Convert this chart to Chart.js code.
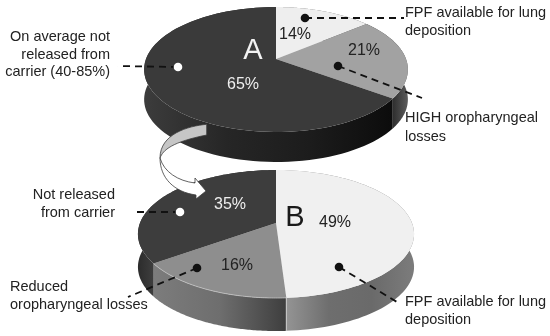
<!DOCTYPE html>
<html lang="en">

<head>
    <meta charset="UTF-8">
    <title>Lung deposition pies</title>
    <script src="https://cdn.jsdelivr.net/npm/chart.js"></script>
    <style>
        html, body { margin: 0; padding: 0; background: #fff; overflow: hidden; }
        #stage { position: relative; width: 550px; height: 336px; overflow: hidden;
                 font-family: "Liberation Sans", Arial, sans-serif; color: #222; filter: blur(0.35px); }
        canvas { position: absolute; left: 0; top: 0; }
        .txt { position: absolute; white-space: nowrap; font-size: 14.5px; line-height: 18px; }
        .right { text-align: right; }
        .pct { position: absolute; font-size: 16px; line-height: 18px; transform: translate(-50%, -50%); }
        .big { position: absolute; font-size: 29px; line-height: 30px; transform: translate(-50%, -50%); }
    </style>
</head>

<body>
    <div id="stage">
        <canvas id="pieA" width="550" height="336"></canvas>
        <canvas id="pieB" width="550" height="336"></canvas>
    </div>

<script>
    // values
    const sliceNamesA = ['FPF available for lung deposition', 'HIGH oropharyngeal losses', 'On average not released from carrier'];
    const valuesA = [14, 21, 65];
    const sliceNamesB = ['FPF available for lung deposition', 'Reduced oropharyngeal losses', 'Not released from carrier'];
    const valuesB = [49, 16, 35];

    // colours
    const facesA = ['#eeeeee', '#a2a2a2', '#3a3a3a'];
    const wallsA = [['#666666', '#555555'], ['#2e2e2e', '#5c5c5c'], ['#3c3c3c', '#262626', '#1c1c1c', '#0c0c0c']];
    const facesB = ['#f0f0f0', '#8e8e8e', '#3d3d3d'];
    const wallsB = [['#949494', '#6e6e6e', '#6a6a6a', '#7c7c7c'], ['#7c7c7c', '#6e6e6e', '#3e3e3e'], ['#2c2c2c', '#3e3e3e']];

    // how each flat pie is tilted on the page
    const viewA = { x: 276, y: 59, a: 130, b: 60.7, tilt: 0.168, depth: 30 };
    const viewB = { x: 276, y: 223, a: 136, b: 62.1, tilt: 0.172, depth: 33 };

    // callouts [dot x, dot y, end x, end y, dot colour]
    const calloutsA = [[305, 18, 404, 18, '#111'], [338, 66, 422, 98, '#111'], [178, 67, 118, 66, '#fff']];
    const calloutsB = [[180, 212, 132, 212, '#fff'], [197, 268, 128, 297, '#111'], [339, 267, 397, 302, '#111']];

    function project(view, angle, drop) {
        const u = Math.cos(angle);
        const v = Math.sin(angle);
        const w = 1 - view.tilt * v;
        return [view.x + view.a * u / w, view.y + view.b * v / w + (drop || 0)];
    }

    function rim(view, arc, drop) {
        const pts = [];
        const steps = 90;
        for (let i = 0; i <= steps; i++) {
            const ang = arc.startAngle + (arc.endAngle - arc.startAngle) * i / steps;
            pts.push(project(view, ang, drop));
        }
        return pts;
    }

    function drawWall(ctx, view, arc, stops) {
        const top = rim(view, arc, 0);
        const bottom = rim(view, arc, view.depth).reverse();
        // gradient only runs over the part of the wall you can see
        const front = top.filter(p => p[1] > view.y - 8);
        const xs = (front.length ? front : top).map(p => p[0]);
        const grad = ctx.createLinearGradient(Math.min(...xs), 0, Math.max(...xs), 0);
        stops.forEach((c, i) => grad.addColorStop(i / (stops.length - 1), c));
        ctx.fillStyle = grad;
        ctx.beginPath();
        top.concat(bottom).forEach((p, i) => i ? ctx.lineTo(p[0], p[1]) : ctx.moveTo(p[0], p[1]));
        ctx.closePath();
        ctx.fill();
    }

    function drawFace(ctx, view, arc, colour) {
        ctx.fillStyle = colour;
        ctx.beginPath();
        ctx.moveTo(view.x, view.y);
        rim(view, arc, 0).forEach(p => ctx.lineTo(p[0], p[1]));
        ctx.closePath();
        ctx.fill();
    }

    function drawCallouts(ctx, list) {
        list.forEach(c => {
            ctx.strokeStyle = '#111';
            ctx.lineWidth = 1.8;
            ctx.setLineDash([7, 5]);
            ctx.beginPath();
            ctx.moveTo(c[0], c[1]);
            ctx.lineTo(c[2], c[3]);
            ctx.stroke();
            ctx.setLineDash([]);
            ctx.fillStyle = c[4];
            ctx.beginPath();
            ctx.arc(c[0], c[1], 4.3, 0, Math.PI * 2);
            ctx.fill();
        });
    }

    function drawArrow(ctx) {
        ctx.lineWidth = 0.8;
        ctx.strokeStyle = '#3c3c3c';
        // grey back part
        ctx.fillStyle = '#c6c6c6';
        ctx.beginPath();
        ctx.moveTo(206.7, 124.3);
        ctx.bezierCurveTo(188, 126, 160, 134, 160, 158);
        ctx.bezierCurveTo(163, 150, 172, 142, 206.7, 135);
        ctx.closePath();
        ctx.fill();
        ctx.stroke();
        // white front part
        ctx.fillStyle = '#ffffff';
        ctx.beginPath();
        ctx.moveTo(160, 158);
        ctx.bezierCurveTo(160, 178, 174, 192, 196, 195);
        ctx.lineTo(196, 199);
        ctx.lineTo(206, 191);
        ctx.lineTo(195, 178);
        ctx.lineTo(195, 183);
        ctx.bezierCurveTo(178, 181, 164, 172, 160, 158);
        ctx.closePath();
        ctx.fill();
        ctx.stroke();
    }

    const tiltedPie = {
        id: 'tiltedPie',
        beforeDatasetsDraw(chart, args, opts) {
            const ctx = chart.ctx;
            const arcs = chart.getDatasetMeta(0).data;
            ctx.save();
            arcs.forEach((arc, i) => drawWall(ctx, opts.view, arc, opts.walls[i]));
            arcs.forEach((arc, i) => drawFace(ctx, opts.view, arc, chart.data.datasets[0].backgroundColor[i]));
            if (opts.rimSlice !== undefined) {
                ctx.strokeStyle = '#c4c4c4';
                ctx.lineWidth = 0.8;
                ctx.beginPath();
                rim(opts.view, arcs[opts.rimSlice], 0).forEach((p, i) => i ? ctx.lineTo(p[0], p[1]) : ctx.moveTo(p[0], p[1]));
                ctx.stroke();
                const edge = project(opts.view, arcs[opts.rimSlice].startAngle, 0);
                ctx.strokeStyle = '#e0e0e0';
                ctx.beginPath();
                ctx.moveTo(edge[0], edge[1]);
                ctx.lineTo(edge[0], edge[1] + opts.view.depth);
                ctx.stroke();
            }
            drawCallouts(ctx, opts.callouts);
            if (opts.arrow) drawArrow(ctx);
            ctx.restore();
            return false;
        }
    };

    function makePie(id, names, values, faces, pluginOpts) {
        return new Chart(document.getElementById(id), {
            type: 'pie',
            data: { labels: names, datasets: [{ data: values, backgroundColor: faces, borderWidth: 0 }] },
            options: {
                responsive: false,
                animation: false,
                plugins: { legend: { display: false }, tooltip: { enabled: false }, tiltedPie: pluginOpts }
            },
            plugins: [tiltedPie]
        });
    }

    makePie('pieA', sliceNamesA, valuesA, facesA, { view: viewA, walls: wallsA, callouts: calloutsA });
    makePie('pieB', sliceNamesB, valuesB, facesB, { view: viewB, walls: wallsB, callouts: calloutsB, rimSlice: 1, arrow: true });

    // text on the page
    const stage = document.getElementById('stage');

    function addText(cls, css, html) {
        const el = document.createElement('div');
        el.className = cls;
        el.style.cssText = css;
        el.innerHTML = html;
        stage.appendChild(el);
    }

    const pctSpotsA = [[295, 34, '#222'], [364, 50, '#222'], [243, 84, '#eee']];
    const pctSpotsB = [[335, 222, '#222'], [237, 265, '#222'], [230, 204, '#eee']];
    valuesA.forEach((v, i) => addText('pct', `left:${pctSpotsA[i][0]}px;top:${pctSpotsA[i][1]}px;color:${pctSpotsA[i][2]}`, v + '%'));
    valuesB.forEach((v, i) => addText('pct', `left:${pctSpotsB[i][0]}px;top:${pctSpotsB[i][1]}px;color:${pctSpotsB[i][2]}`, v + '%'));
    addText('big', 'left:253px;top:49px;color:#f2f2f2', 'A');
    addText('big', 'left:295px;top:216px;color:#1a1a1a', 'B');

    addText('txt right', 'right:440px;top:28px;line-height:17.5px', 'On average not<br>released from<br>carrier (40-85%)');
    addText('txt', 'left:405px;top:3px', 'FPF available for lung<br>deposition');
    addText('txt', 'left:405px;top:108px;line-height:19px', 'HIGH oropharyngeal<br>losses');
    addText('txt right', 'right:435px;top:185px', 'Not released<br>from carrier');
    addText('txt', 'left:10px;top:278px;line-height:17.5px', 'Reduced<br>oropharyngeal losses');
    addText('txt', 'left:405px;top:292px', 'FPF available for lung<br>deposition');
</script>
</body>

</html>
